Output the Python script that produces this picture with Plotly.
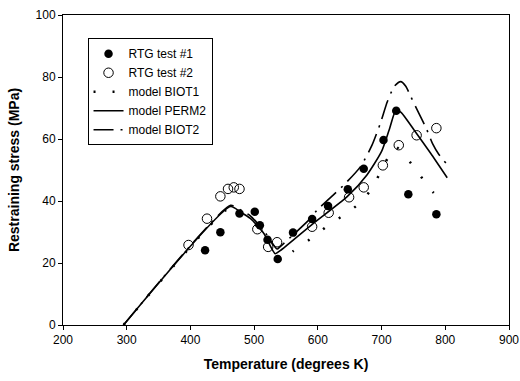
import plotly.graph_objects as go

# RTG test data
t1_temp = [423, 447, 477, 501, 509, 521, 537, 561, 591, 616, 647, 672, 703, 723, 742, 786]
t1_stress = [24.1, 29.9, 36.0, 36.5, 32.2, 27.5, 21.3, 29.8, 34.2, 38.4, 43.8, 50.4, 59.7, 69.1, 42.2, 35.7]

t2_temp = [397, 426, 447, 459, 468, 477, 505, 522, 536, 591, 617, 649, 672, 702, 727, 755, 786]
t2_stress = [25.8, 34.3, 41.5, 43.9, 44.4, 43.9, 30.9, 25.2, 26.7, 31.7, 36.2, 41.2, 44.4, 51.5, 58.0, 61.2, 63.5]

# model curves
biot1_temp = [295, 463, 478, 494, 515, 538, 561, 593, 612, 651, 670, 685, 696, 710, 722, 735, 751, 780, 800]
biot1_stress = [0, 38.0, 36.5, 34.2, 29.0, 21.5, 23.8, 28.5, 31.5, 36.9, 40.1, 44.2, 48.4, 54.0, 57.5, 55.0, 50.9, 43.0, 39.5]

perm2_temp = [295, 463, 478, 494, 515, 533, 541, 593, 646, 677, 700, 712, 723, 731, 751, 777, 803]
perm2_stress = [0, 38.2, 36.5, 34.4, 29.6, 23.0, 24.0, 32.8, 41.4, 48.4, 56.0, 63.0, 69.5, 68.5, 62.9, 55.4, 47.5]

biot2_temp = [295, 463, 478, 494, 515, 536, 541, 586, 599, 641, 667, 685, 698, 709, 720, 730, 738, 746, 758, 770, 780, 790, 801]
biot2_stress = [0, 38.6, 37.2, 35.2, 30.5, 24.5, 25.3, 33.9, 37.1, 45.2, 51.1, 58.0, 65.0, 72.0, 77.0, 78.5, 77.0, 73.6, 68.5, 63.5, 58.5, 55.0, 52.2]

x_ticks = [200, 300, 400, 500, 600, 700, 800, 900]
y_ticks = [0, 20, 40, 60, 80, 100]

FONT = "Liberation Sans, Arial"

fig = go.Figure()
fig.add_trace(go.Scatter(x=t1_temp, y=t1_stress, mode="markers", name="RTG test #1",
                         marker=dict(symbol="circle", size=8.5, color="black",
                                     line=dict(width=0))))
fig.add_trace(go.Scatter(x=t2_temp, y=t2_stress, mode="markers", name="RTG test #2",
                         marker=dict(symbol="circle-open", size=9.5, color="black",
                                     line=dict(width=1))))
fig.add_trace(go.Scatter(x=biot1_temp, y=biot1_stress, mode="lines", name="model BIOT1",
                         line=dict(color="black", width=2.5, dash="2px,17px",
                                   shape="spline", smoothing=0.6)))
fig.add_trace(go.Scatter(x=perm2_temp, y=perm2_stress, mode="lines", name="model PERM2",
                         line=dict(color="black", width=1.6, shape="spline", smoothing=0.6)))
fig.add_trace(go.Scatter(x=biot2_temp, y=biot2_stress, mode="lines", name="model BIOT2",
                         line=dict(color="black", width=1.6, dash="20px,7px,2px,7px",
                                   shape="spline", smoothing=0.6)))

axis_common = dict(showline=True, linecolor="black", linewidth=1, mirror=True,
                   ticks="outside", ticklen=4, tickcolor="black", showgrid=False,
                   zeroline=False, automargin=False,
                   tickfont=dict(family=FONT, size=12, color="black"))

fig.update_xaxes(range=[200, 900], tickvals=x_ticks,
                 title=dict(text="<b>Temperature (degrees K)</b>",
                            font=dict(family=FONT, size=14, color="black"),
                            standoff=12),
                 **axis_common)
fig.update_yaxes(range=[0, 100], tickvals=y_ticks,
                 title=dict(text="<b>Restraining stress (MPa)</b>",
                            font=dict(family=FONT, size=14, color="black"),
                            standoff=12),
                 **axis_common)

fig.update_layout(
    width=520, height=381,
    margin=dict(l=63, r=11, t=15, b=56),
    paper_bgcolor="white", plot_bgcolor="white",
    showlegend=True,
    legend=dict(x=0.055, y=0.925, xanchor="left", yanchor="top",
                bordercolor="black", borderwidth=1, bgcolor="white",
                font=dict(family=FONT, size=12, color="black"),
                itemwidth=30, tracegroupgap=0),
    font=dict(family=FONT, color="black"),
)

# remove the browser's default page margin so the figure sits at the window origin
fig.write_html("out.html", config={"displayModeBar": False},
               post_script="document.body.style.margin='0';document.body.style.overflow='hidden';")
